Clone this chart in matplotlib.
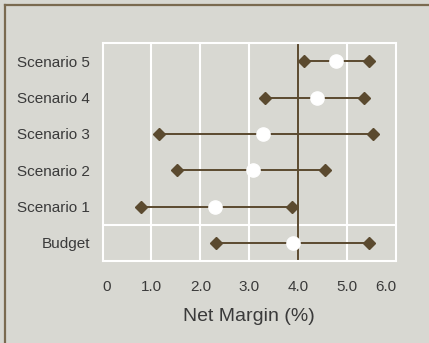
import matplotlib
matplotlib.use("Agg")
import matplotlib.pyplot as plt
from matplotlib.lines import Line2D

categories = ["Budget", "Scenario 1", "Scenario 2", "Scenario 3", "Scenario 4", "Scenario 5"]
low_values = [2.32, 0.79, 1.53, 1.15, 3.32, 4.12]
mid_values = [3.89, 2.30, 3.07, 3.28, 4.38, 4.78]
high_values = [5.45, 3.88, 4.55, 5.53, 5.34, 5.45]
reference_value = 4.0
x_ticks = [0, 1, 2, 3, 4, 5, 6]
x_tick_labels = ["0", "1.0", "2.0", "3.0", "4.0", "5.0", "6.0"]

bg = "#D8D8D2"
brown = "#5B4A2F"
text_color = "#3A3A3A"
plt.rcParams["font.family"] = ["Liberation Sans", "DejaVu Sans"]

fig = plt.figure(figsize=(4.29, 3.43), dpi=100, facecolor=bg)
ax = fig.add_axes([102.5 / 429, (343 - 261) / 343, 293.5 / 429, 218 / 343])
ax.set_facecolor(bg)

ypos = list(range(len(categories)))
ax.set_xlim(0, 6)
ax.set_ylim(-0.5, len(categories) - 0.5)

for x in x_ticks[1:-1]:
    ax.axvline(x, color="white", lw=1.5, zorder=1)
ax.axhline(0.5, color="white", lw=1.5, zorder=1)
for s in ax.spines.values():
    s.set_color("white")
    s.set_linewidth(1.5)

ax.axvline(reference_value, color=brown, lw=1.4, zorder=2)

for y, lo, mid, hi in zip(ypos, low_values, mid_values, high_values):
    ax.plot([lo, hi], [y, y], color=brown, lw=1.4, zorder=3)
    ax.plot([lo, hi], [y, y], linestyle="none", marker="D", markersize=6.5,
            color=brown, zorder=4)
    ax.plot([mid], [y], linestyle="none", marker="o", markersize=9.5,
            markerfacecolor="white", markeredgecolor="white", zorder=5)

ax.set_yticks(ypos)
ax.set_yticklabels(categories, fontsize=11, color=text_color)
ax.set_xticks(x_ticks)
ax.set_xticklabels(x_tick_labels, fontsize=11, color=text_color)
labels = ax.get_xticklabels()
labels[0].set_horizontalalignment("left")
labels[-1].set_horizontalalignment("right")
ax.tick_params(axis="both", length=0)
ax.tick_params(axis="x", pad=14)
ax.tick_params(axis="y", pad=9)
ax.set_xlabel("Net Margin (%)", fontsize=14, color=text_color, labelpad=10)

# frame lines along the top and left edges of the figure
fig.add_artist(Line2D([4.5 / 429, 4.5 / 429], [0, 1 - 4.5 / 343],
                      transform=fig.transFigure, color="#7A6A50", lw=1.6))
fig.add_artist(Line2D([4.5 / 429, 1], [1 - 4.5 / 343, 1 - 4.5 / 343],
                      transform=fig.transFigure, color="#7A6A50", lw=1.6))

fig.savefig("out.png", dpi=100, facecolor=bg)
